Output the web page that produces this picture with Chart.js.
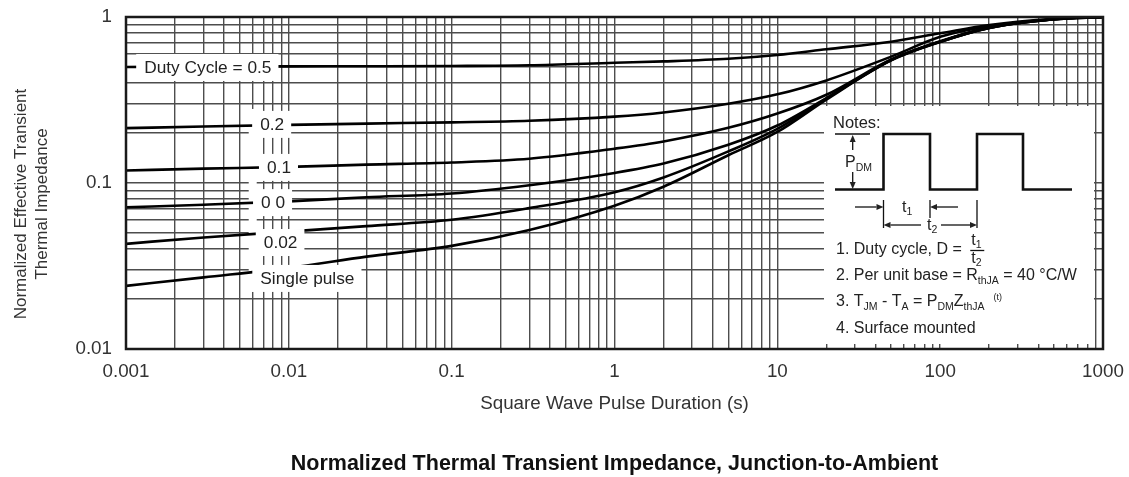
<!DOCTYPE html>
<html lang="en">
<head>
    <meta charset="UTF-8">
    <title>Normalized Thermal Transient Impedance</title>
    <script src="https://cdn.jsdelivr.net/npm/chart.js"></script>
    <style>
        body { margin: 0; background: #ffffff; }
        #zthChart { display: block; }
    </style>
</head>
<body>
<canvas id="zthChart" width="1129" height="477"></canvas>
<script>
    // Square wave pulse duration (s)
    const pulseTime = [0.001, 0.003, 0.01, 0.03, 0.1, 0.3, 1, 2, 5, 10, 20, 50, 100, 200, 500, 1000];

    // Normalized effective transient thermal impedance, one array per duty cycle
    const zD05    = [0.50, 0.502, 0.504, 0.505, 0.507, 0.512, 0.53, 0.54, 0.56, 0.59, 0.639, 0.71, 0.798, 0.895, 0.975, 1.0];
    const zD02    = [0.214, 0.219, 0.224, 0.228, 0.232, 0.237, 0.251, 0.266, 0.30, 0.342, 0.415, 0.577, 0.76, 0.88, 0.97, 1.0];
    const zD01    = [0.119, 0.122, 0.125, 0.129, 0.133, 0.140, 0.161, 0.178, 0.215, 0.262, 0.34, 0.555, 0.715, 0.865, 0.97, 1.0];
    const zD005   = [0.0714, 0.074, 0.0775, 0.082, 0.0865, 0.097, 0.115, 0.131, 0.170, 0.222, 0.325, 0.551, 0.71, 0.86, 0.97, 1.0];
    const zD002   = [0.043, 0.047, 0.051, 0.055, 0.060, 0.0706, 0.088, 0.108, 0.155, 0.212, 0.322, 0.55, 0.71, 0.86, 0.97, 1.0];
    const zSingle = [0.024, 0.027, 0.0308, 0.036, 0.0418, 0.0521, 0.073, 0.095, 0.147, 0.203, 0.318, 0.548, 0.708, 0.86, 0.97, 1.0];

    const curveLabels = ['Duty Cycle = 0.5', '0.2', '0.1', '0 0', '0.02', 'Single pulse'];
    // where each curve label sits (data coordinates)
    const labelAtX = [0.00318, 0.0079, 0.0087, 0.0080, 0.0089, 0.0130];
    const labelAtY = [0.5, 0.227, 0.125, 0.0767, 0.0441, 0.0268];

    // tick labels (decades)
    const xDecades = [0.001, 0.01, 0.1, 1, 10, 100, 1000];
    const xTickLabels = ['0.001', '0.01', '0.1', '1', '10', '100', '1000'];
    const yDecades = [0.01, 0.1, 1];
    const yTickLabels = ['0.01', '0.1', '1'];

    const FONT = '"Liberation Sans", Arial, sans-serif';

    // grid lines at 1..9 of every decade
    function logGrid(decades) {
        const out = [];
        for (let i = 0; i < decades.length - 1; i++) {
            for (let k = 1; k < 10; k++) out.push(decades[i] * k);
        }
        out.push(decades[decades.length - 1]);
        return out;
    }
    const xGrid = logGrid(xDecades);
    const yGrid = logGrid(yDecades);

    function decadeLabel(value, decades, labels) {
        for (let i = 0; i < decades.length; i++) {
            if (Math.abs(Math.log10(value / decades[i])) < 1e-6) return labels[i];
        }
        return '';
    }

    function toPoints(ys) {
        return pulseTime.map((t, i) => ({ x: t, y: ys[i] }));
    }

    function curve(label, ys) {
        return {
            label: label,
            data: toPoints(ys),
            borderColor: '#000000',
            borderWidth: 2.6,
            pointRadius: 0,
            fill: false,
            cubicInterpolationMode: 'monotone'
        };
    }

    // draws a run of text pieces (normal / subscript) from left to right
    function runText(ctx, x, y, parts) {
        let cx = x;
        parts.forEach(([s, size, dy]) => {
            ctx.font = size + 'px ' + FONT;
            ctx.fillText(s, cx, y + dy);
            cx += ctx.measureText(s).width;
        });
        return cx;
    }

    function arrow(ctx, x1, y1, x2, y2) {
        const ang = Math.atan2(y2 - y1, x2 - x1);
        const L = 7, W = 3;
        const c = Math.cos(ang), s = Math.sin(ang);
        ctx.beginPath();
        ctx.moveTo(x1, y1);
        ctx.lineTo(x2 - L * c, y2 - L * s);
        ctx.stroke();
        ctx.beginPath();
        ctx.moveTo(x2, y2);
        ctx.lineTo(x2 - L * c + W * s, y2 - L * s - W * c);
        ctx.lineTo(x2 - L * c - W * s, y2 - L * s + W * c);
        ctx.closePath();
        ctx.fill();
    }

    // Notes inset in lower right corner of the plot
    function drawNotes(chart) {
        const { ctx, chartArea: a } = chart;
        const bx = a.right - 279, by = a.top + 89;
        ctx.save();
        ctx.fillStyle = '#ffffff';
        ctx.fillRect(bx, by, 270, 238);

        ctx.fillStyle = '#222222';
        ctx.strokeStyle = '#111111';
        ctx.textBaseline = 'middle';
        ctx.textAlign = 'left';
        runText(ctx, bx + 9, by + 17, [['Notes:', 16.5, 0]]);

        // pulse train
        ctx.lineWidth = 2.6;
        ctx.beginPath();
        const wave = [[11, 83.5], [59.5, 83.5], [59.5, 28], [106, 28], [106, 83.5], [153, 83.5],
                      [153, 28], [199, 28], [199, 83.5], [248, 83.5]];
        wave.forEach(([px, py], i) => i ? ctx.lineTo(bx + px, by + py) : ctx.moveTo(bx + px, by + py));
        ctx.stroke();

        ctx.lineWidth = 1.3;
        ctx.beginPath();
        ctx.moveTo(bx + 11, by + 28);
        ctx.lineTo(bx + 46, by + 28);
        ctx.stroke();
        // P_DM arrow
        arrow(ctx, bx + 28.7, by + 44, bx + 28.7, by + 29);
        arrow(ctx, bx + 28.7, by + 66, bx + 28.7, by + 83);
        runText(ctx, bx + 21, by + 57, [['P', 16, 0], ['DM', 10.5, 5]]);

        // t1 / t2 dimensions
        ctx.beginPath();
        ctx.moveTo(bx + 59.5, by + 94); ctx.lineTo(bx + 59.5, by + 122);
        ctx.moveTo(bx + 106, by + 94); ctx.lineTo(bx + 106, by + 112);
        ctx.moveTo(bx + 153, by + 94); ctx.lineTo(bx + 153, by + 122);
        ctx.stroke();
        arrow(ctx, bx + 31, by + 101, bx + 59.5, by + 101);
        arrow(ctx, bx + 134, by + 101, bx + 106, by + 101);
        runText(ctx, bx + 78, by + 102, [['t', 16, 0], ['1', 10.5, 4]]);
        arrow(ctx, bx + 97, by + 119, bx + 59.5, by + 119);
        arrow(ctx, bx + 117, by + 119, bx + 153, by + 119);
        runText(ctx, bx + 103, by + 120, [['t', 16, 0], ['2', 10.5, 4]]);

        // numbered notes
        const fx = runText(ctx, bx + 12, by + 144, [['1. Duty cycle, D = ', 16, 0]]);
        runText(ctx, fx + 5, by + 135, [['t', 16, 0], ['1', 10.5, 4]]);
        ctx.beginPath();
        ctx.moveTo(fx + 4, by + 144.5); ctx.lineTo(fx + 18, by + 144.5);
        ctx.stroke();
        runText(ctx, fx + 5, by + 153, [['t', 16, 0], ['2', 10.5, 4]]);

        runText(ctx, bx + 12, by + 170, [['2. Per unit base = R', 16, 0], ['thJA', 10.5, 5], [' = 40 °C/W', 16, 0]]);
        runText(ctx, bx + 12, by + 196, [['3. T', 16, 0], ['JM', 10.5, 5], [' - T', 16, 0], ['A', 10.5, 5],
            [' = P', 16, 0], ['DM', 10.5, 5], ['Z', 16, 0], ['thJA', 10.5, 5], ['  ', 16, 0], ['(t)', 9, -4]]);
        runText(ctx, bx + 12, by + 223, [['4. Surface mounted', 16, 0]]);
        ctx.restore();
    }

    // white strip hiding the 0.006 grid line behind the label stack (under the curves)
    function hideLabelColumn(chart) {
        const { ctx, scales: { x, y } } = chart;
        const sx = x.getPixelForValue(0.006);
        const top = y.getPixelForValue(0.23) - 14;
        const bottom = y.getPixelForValue(0.0268) + 14;
        ctx.save();
        ctx.fillStyle = '#ffffff';
        ctx.fillRect(sx - 4, top, 8, bottom - top);
        ctx.restore();
    }

    function drawCurveLabels(chart) {
        const { ctx, scales: { x, y } } = chart;
        ctx.save();
        ctx.font = '17.3px ' + FONT;
        ctx.textBaseline = 'middle';
        ctx.textAlign = 'left';
        curveLabels.forEach((txt, i) => {
            const w = ctx.measureText(txt).width;
            const cx = x.getPixelForValue(labelAtX[i]);
            const cy = y.getPixelForValue(labelAtY[i]);
            ctx.fillStyle = '#ffffff';
            ctx.fillRect(cx - w / 2 - 8, cy - 13, w + 15, 27);
            ctx.fillStyle = '#222222';
            ctx.fillText(txt, cx - w / 2, cy + 1);
        });
        ctx.restore();
    }

    const inkPlugin = {
        id: 'ink',
        beforeDatasetsDraw(chart) {
            hideLabelColumn(chart);
            drawNotes(chart);
        },
        afterDatasetsDraw(chart) {
            drawCurveLabels(chart);
            const { ctx, chartArea: a } = chart;
            ctx.save();
            ctx.lineWidth = 2.5;
            ctx.strokeStyle = '#1a1a1a';
            ctx.strokeRect(a.left, a.top, a.right - a.left, a.bottom - a.top);
            ctx.restore();
        },
        afterDraw(chart) {
            // two-line rotated y axis title
            const { ctx } = chart;
            ctx.save();
            ctx.font = '17px ' + FONT;
            ctx.fillStyle = '#333333';
            ctx.textAlign = 'center';
            ctx.textBaseline = 'middle';
            ctx.translate(21, 204);
            ctx.rotate(-Math.PI / 2);
            ctx.fillText('Normalized Effective Transient', 0, 0);
            ctx.fillText('Thermal Impedance', 0, 21);
            ctx.restore();
        }
    };

    new Chart(document.getElementById('zthChart'), {
        type: 'line',
        data: {
            datasets: [
                curve('0.5', zD05),
                curve('0.2', zD02),
                curve('0.1', zD01),
                curve('0.05', zD005),
                curve('0.02', zD002),
                curve('Single pulse', zSingle)
            ]
        },
        options: {
            responsive: false,
            animation: false,
            layout: { padding: { left: 0, right: 26, top: 17, bottom: 0 } },
            plugins: {
                legend: { display: false },
                tooltip: { enabled: false },
                title: {
                    display: true,
                    position: 'bottom',
                    fullSize: false,
                    text: 'Normalized Thermal Transient Impedance, Junction-to-Ambient',
                    color: '#111111',
                    font: { family: FONT, size: 21.5, weight: 'bold', lineHeight: 1.2 },
                    padding: { top: 0, bottom: 0.1 }
                }
            },
            scales: {
                x: {
                    type: 'logarithmic',
                    min: 0.001,
                    max: 1000,
                    afterBuildTicks: (scale) => { scale.ticks = xGrid.map(v => ({ value: v })); },
                    afterFit: (scale) => { scale.height = 102.1; },
                    grid: { color: '#4d4d4d', lineWidth: 1.4, drawTicks: true, tickLength: 12, tickColor: 'rgba(0,0,0,0)' },
                    border: { display: false },
                    ticks: {
                        autoSkip: false,
                        maxRotation: 0,
                        minRotation: 0,
                        padding: 0,
                        color: '#333333',
                        font: { family: FONT, size: 18.8 },
                        callback: (v) => decadeLabel(v, xDecades, xTickLabels)
                    },
                    title: {
                        display: true,
                        text: 'Square Wave Pulse Duration (s)',
                        color: '#333333',
                        font: { family: FONT, size: 18.8, lineHeight: 1.2 },
                        padding: { top: 0, bottom: 35.8 }
                    }
                },
                y: {
                    type: 'logarithmic',
                    min: 0.01,
                    max: 1,
                    afterBuildTicks: (scale) => { scale.ticks = yGrid.map(v => ({ value: v })); },
                    afterFit: (scale) => { scale.width = 126; },
                    grid: { color: '#4d4d4d', lineWidth: 1.4, drawTicks: true, tickLength: 14, tickColor: 'rgba(0,0,0,0)' },
                    border: { display: false },
                    ticks: {
                        autoSkip: false,
                        padding: 0,
                        color: '#333333',
                        font: { family: FONT, size: 18.8 },
                        callback: (v) => decadeLabel(v, yDecades, yTickLabels)
                    }
                }
            }
        },
        plugins: [inkPlugin]
    });
</script>
</body>
</html>
